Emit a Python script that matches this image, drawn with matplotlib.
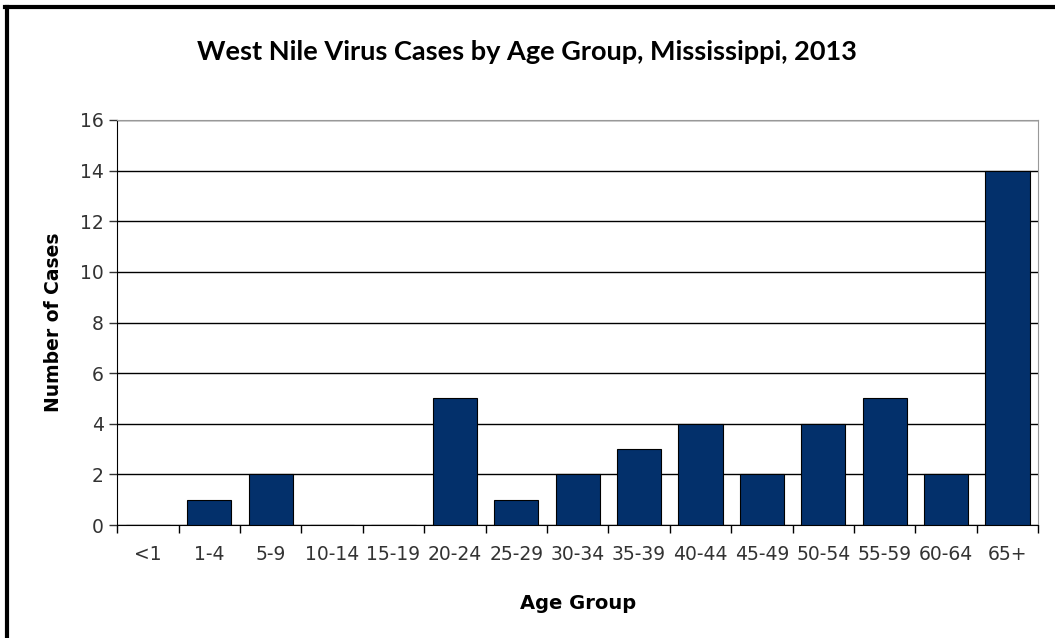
import matplotlib.pyplot as plt
from matplotlib.lines import Line2D

age_groups = ["<1", "1-4", "5-9", "10-14", "15-19", "20-24", "25-29", "30-34",
              "35-39", "40-44", "45-49", "50-54", "55-59", "60-64", "65+"]
cases = [0, 1, 2, 0, 0, 5, 1, 2, 3, 4, 2, 4, 5, 2, 14]
y_ticks = [0, 2, 4, 6, 8, 10, 12, 14, 16]

plt.rcParams['font.family'] = ['DejaVu Sans']

fig = plt.figure(figsize=(10.55, 6.38), dpi=100)
ax = fig.add_axes([0.111, 0.177, 0.873, 0.635])

x = list(range(len(age_groups)))
ax.bar(x, cases, width=0.72, color="#03306b", edgecolor="black", linewidth=0.8, zorder=3)

ax.set_xlim(-0.5, len(age_groups) - 0.5)
ax.set_ylim(0, 16)
ax.set_yticks(y_ticks)
ax.tick_params(axis="y", labelsize=13.5, colors="#333333", length=6, width=1)
ax.yaxis.grid(True, color="black", linewidth=1, zorder=0)

# category ticks sit between the bars
ax.set_xticks([i - 0.5 for i in range(len(age_groups) + 1)])
ax.set_xticklabels([])
ax.set_xticks(x, minor=True)
ax.set_xticklabels(age_groups, minor=True, fontsize=13.5, color="#333333")
ax.tick_params(axis="x", which="major", length=6, width=1, direction="out")
ax.tick_params(axis="x", which="minor", length=0, pad=14)

for side in ["top", "right"]:
    ax.spines[side].set_color("#999999")
ax.spines["left"].set_color("black")
ax.spines["bottom"].set_color("black")

ax.set_ylabel("Number of Cases", fontsize=13.5, fontweight="bold", labelpad=12)
ax.set_xlabel("Age Group", fontsize=14, fontweight="bold", labelpad=22)
fig.text(0.499, 0.918, "West Nile Virus Cases by Age Group, Mississippi, 2013",
         ha="center", va="center", fontsize=19.5, fontweight="bold",
         family=["Lato", "DejaVu Sans"])

# frame on the left and top of the image
fig.add_artist(Line2D([0.0065, 0.0065], [0.0, 0.989], color="black", linewidth=3))
fig.add_artist(Line2D([0.005, 1.0], [0.989, 0.989], color="black", linewidth=3))

fig.savefig("out.png", dpi=100)
